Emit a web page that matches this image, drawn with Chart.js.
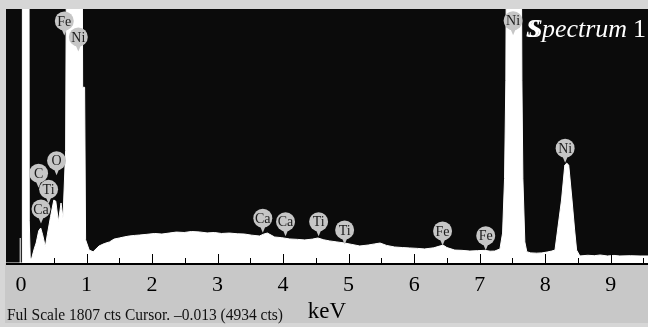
<!DOCTYPE html>
<html>
<head>
<meta charset="utf-8">
<script src="https://cdn.jsdelivr.net/npm/chart.js@4"></script>
<style>
    html, body { margin: 0; padding: 0; background: #d6d6d6; }
    #wrap { width: 648px; height: 327px; position: relative; }
</style>
</head>
<body>
<div id="wrap"><canvas id="spectrum"></canvas></div>
<script>
// EDS spectrum (energy in keV, counts). 3000 = clipped above full scale.
const energyKeV = [
    -0.23, 0.015, 0.02, 0.12, 0.125, 0.14, 0.16, 0.20, 0.23, 0.27, 0.30, 0.33, 0.37, 0.40, 0.45, 0.50,
    0.53, 0.57, 0.61, 0.64, 0.68, 0.70, 0.93, 0.94, 0.97, 0.985, 1.04, 1.10, 1.19, 1.27, 1.35, 1.42,
    1.50, 1.58, 1.65, 1.73, 1.81, 1.92, 2.04, 2.15, 2.26, 2.37, 2.49, 2.60, 2.72, 2.84, 2.95, 3.06,
    3.18, 3.30, 3.41, 3.52, 3.64, 3.70, 3.76, 3.87, 3.98, 4.10, 4.22, 4.33, 4.45, 4.53, 4.62, 4.71,
    4.82, 4.94, 5.05, 5.17, 5.30, 5.40, 5.48, 5.58, 5.70, 5.82, 5.93, 6.05, 6.16, 6.30, 6.40, 6.44,
    6.50, 6.62, 6.73, 6.85, 6.97, 7.08, 7.16, 7.23, 7.31, 7.35, 7.38, 7.40, 7.415, 7.63, 7.645, 7.66,
    7.69, 7.72, 7.78, 7.87, 7.95, 8.03, 8.10, 8.15, 8.19, 8.25, 8.30, 8.33, 8.36, 8.41, 8.45, 8.48,
    8.53, 8.65, 8.75, 8.84, 8.95, 9.05, 9.14, 9.30, 9.45, 9.57
];
const counts = [
    0, 0, 3000, 3000, 300, 33, 30, 100, 142, 230, 249, 200, 116, 200, 330, 448,
    440, 294, 427, 320, 800, 3000, 3000, 1250, 1250, 165, 92, 80, 121, 138, 150, 170,
    178, 186, 192, 196, 199, 204, 210, 206, 213, 220, 217, 224, 221, 214, 217, 210,
    213, 208, 206, 198, 192, 205, 213, 185, 180, 171, 168, 164, 170, 178, 165, 157,
    150, 142, 132, 121, 128, 136, 142, 125, 114, 110, 107, 104, 100, 108, 122, 128,
    110, 92, 90, 85, 88, 90, 84, 85, 100, 213, 600, 1300, 3000, 3000, 1300, 600,
    150, 80, 72, 70, 72, 78, 85, 92, 235, 448, 697, 710, 697, 448, 235, 92,
    50, 55, 52, 57, 50, 54, 50, 52, 50, 50
];

// Peak markers: element, where the badge sits (keV, counts)
const peakNames  = ['Ca', 'C', 'Ti', 'O', 'Fe', 'Ni', 'Ca', 'Ca', 'Ti', 'Ti', 'Fe', 'Fe', 'Ni', 'Ni'];
const peakKeV    = [0.304, 0.267, 0.420, 0.542, 0.660, 0.874, 3.690, 4.037, 4.542, 4.939, 6.434, 7.093, 7.511, 8.305];
const peakCounts = [384, 638, 524, 728, 1722, 1608, 318, 294, 294, 235, 228, 194, 1724, 816];

const fullScale = 1807;
const keVMin = -0.23;
const keVMax = 9.57;
const cursorKeV = -0.013;
const cursorCounts = 178;
const footerText = 'Ful Scale 1807 cts Cursor. \u20130.013 (4934 cts)';
const titleText = 'Spectrum';
const titleNumber = '1';

const SERIF = '"Liberation Serif", "Times New Roman", serif';

// --- background: frame, axis band, black plot ---
const framePlugin = {
    id: 'frame',
    beforeDraw(chart) {
        const { ctx, chartArea: a, width, height } = chart;
        ctx.save();
        ctx.fillStyle = '#d6d6d6';
        ctx.fillRect(0, 0, width, height);
        ctx.fillStyle = '#c8c8c8';
        ctx.fillRect(a.left - 1, a.bottom, width - a.left + 1, 60);
        ctx.fillStyle = '#0b0b0b';
        ctx.fillRect(a.left, a.top, a.right - a.left, a.bottom - a.top);
        ctx.restore();
    }
};

function drawBadge(ctx, cx, cy, name) {
    const r = 9.5;
    ctx.fillStyle = '#c6c6c6';
    ctx.beginPath();
    ctx.moveTo(cx - 2.5, cy + r - 1);
    ctx.lineTo(cx, cy + r + 5);
    ctx.lineTo(cx + 2.5, cy + r - 1);
    ctx.closePath();
    ctx.fill();
    ctx.beginPath();
    ctx.arc(cx, cy, r, 0, Math.PI * 2);
    ctx.fill();
    ctx.fillStyle = '#1b1b1b';
    ctx.font = '14px ' + SERIF;
    ctx.textAlign = 'center';
    ctx.textBaseline = 'middle';
    ctx.fillText(name, cx, cy + 1);
}

// --- overlay: axis line, ticks pointing up, peak badges, texts ---
const overlayPlugin = {
    id: 'overlay',
    afterDatasetsDraw(chart) {
        const { ctx, chartArea: a, scales: { x, y } } = chart;
        ctx.save();

        // axis line
        ctx.fillStyle = '#000';
        ctx.fillRect(a.left, a.bottom, a.right - a.left, 2);

        // ticks every half keV, integers longer
        ctx.strokeStyle = '#000';
        ctx.lineWidth = 1;
        for (let v = 0.5; v <= keVMax; v += 0.5) {
            const px = Math.round(x.getPixelForValue(v)) + 0.5;
            const len = Number.isInteger(v) ? 9 : 5;
            ctx.beginPath();
            ctx.moveTo(px, a.bottom);
            ctx.lineTo(px, a.bottom - len);
            ctx.stroke();
        }

        // element badges
        peakNames.forEach((name, i) => {
            drawBadge(ctx, x.getPixelForValue(peakKeV[i]), y.getPixelForValue(peakCounts[i]), name);
        });

        // spectrum title
        ctx.fillStyle = '#fff';
        ctx.textAlign = 'left';
        ctx.textBaseline = 'alphabetic';
        ctx.font = 'italic 26px ' + SERIF;
        ctx.fillText(titleText, 529, 37, 98);
        ctx.font = 'italic bold 26px ' + SERIF;
        ctx.fillText('S', 526, 37);
        ctx.font = '26px ' + SERIF;
        ctx.fillText(titleNumber, 633, 37);

        // footer
        ctx.fillStyle = '#111';
        ctx.font = '16px ' + SERIF;
        ctx.fillText(footerText, 7, 320, 276);

        ctx.restore();
    }
};

const ctx = document.getElementById('spectrum').getContext('2d');

new Chart(ctx, {
    type: 'scatter',
    data: {
        datasets: [{
            data: energyKeV.map((e, i) => ({ x: e, y: counts[i] })),
            showLine: true,
            fill: 'origin',
            backgroundColor: '#ffffff',
            borderColor: '#ffffff',
            borderWidth: 1,
            pointRadius: 0,
            tension: 0
        }, {
            data: [{ x: cursorKeV, y: 0 }, { x: cursorKeV, y: cursorCounts }],
            showLine: true,
            borderColor: '#ffffff',
            borderWidth: 1,
            pointRadius: 0
        }]
    },
    options: {
        responsive: true,
        maintainAspectRatio: false,
        animation: false,
        devicePixelRatio: 1,
        layout: { padding: { left: 6, top: 9, right: 0, bottom: 0 } },
        plugins: {
            legend: { display: false },
            tooltip: { enabled: false }
        },
        scales: {
            x: {
                type: 'linear',
                min: keVMin,
                max: keVMax,
                grid: { display: false, drawTicks: false },
                border: { display: false },
                ticks: {
                    stepSize: 1,
                    includeBounds: false,
                    autoSkip: false,
                    maxRotation: 0,
                    color: '#000',
                    padding: 9,
                    font: { family: SERIF, size: 22 }
                },
                title: {
                    display: true,
                    text: 'keV',
                    color: '#000',
                    font: { family: SERIF, size: 23 },
                    padding: { top: 0, bottom: 1 }
                },
                afterFit: s => { s.height = 64; }
            },
            y: { display: false, min: 0, max: fullScale }
        }
    },
    plugins: [framePlugin, overlayPlugin]
});
</script>
</body>
</html>
